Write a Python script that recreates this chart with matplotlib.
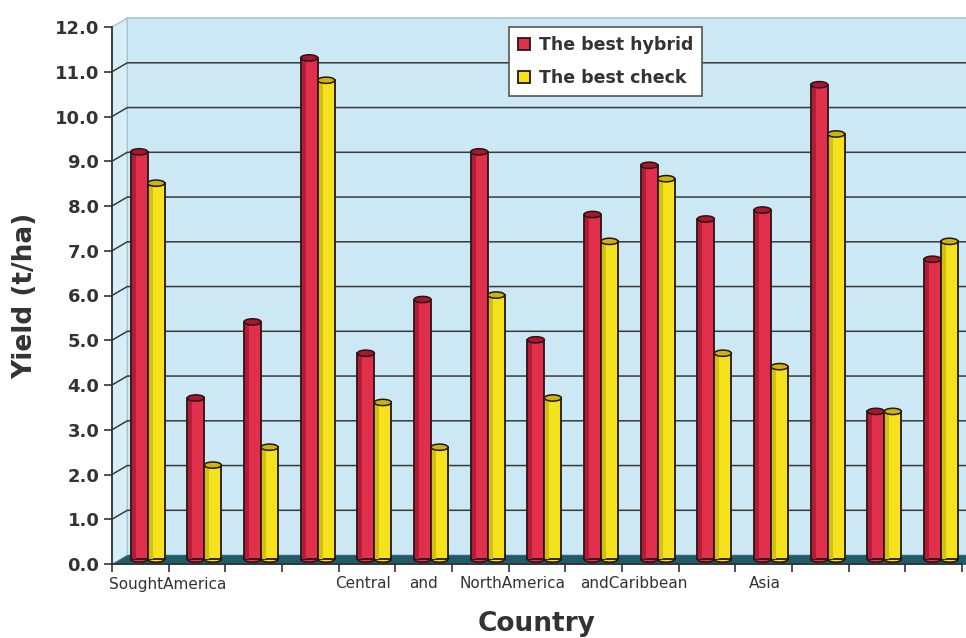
import numpy as np
import matplotlib.pyplot as plt
from matplotlib.patches import Polygon, Ellipse

plt.rcParams['font.family'] = ['DejaVu Sans']

# yields per site, t/ha
hybrid = [9.1, 3.6, 5.3, 11.2, 4.6, 5.8, 9.1, 4.9, 7.7, 8.8, 7.6, 7.8, 10.6, 3.3, 6.7]
check = [8.4, 2.1, 2.5, 10.7, 3.5, 2.5, 5.9, 3.6, 7.1, 8.5, 4.6, 4.3, 9.5, 3.3, 7.1]

# region labels under the category axis
region_labels = ['SoughtAmerica', 'Central', 'and', 'NorthAmerica', 'andCaribbean', 'Asia']
region_pos = [0.99, 4.43, 5.49, 7.07, 9.2, 11.52]

series_names = ['The best hybrid', 'The best check']

red = '#e0304c'
red_dark = '#b71c36'
red_top = '#a8172f'
yellow = '#f4e31c'
yellow_dark = '#d2bf12'
yellow_top = '#c9b50c'
ink = '#333333'
outline = '#2a1414'

fig = plt.figure(figsize=(9.66, 6.38), dpi=100)
ax = fig.add_axes([112 / 966, 74 / 638, 850 / 966, 537 / 638])
ax.set_xlim(0, 15)
ax.set_ylim(0, 12)
ax.patch.set_visible(False)

# fake 3-D box: back wall, side wall and floor
dx, dy = 0.27, 0.2
right = 15.6
ax.add_patch(Polygon([(dx, dy), (right, dy), (right, 12 + dy), (dx, 12 + dy)],
                     closed=True, fc='#cce8f4', ec='#a9c3cf', lw=1.2,
                     clip_on=False, zorder=0))
ax.add_patch(Polygon([(0, 0), (dx, dy), (dx, 12 + dy), (0, 12)],
                     closed=True, fc='#d8eef7', ec='#a9c3cf', lw=1,
                     clip_on=False, zorder=0.5))
ax.add_patch(Polygon([(0, 0), (right, 0), (right, dy), (dx, dy)],
                     closed=True, fc='#1f5b68', ec='#1f5b68', lw=0.5,
                     clip_on=False, zorder=0.6))
for k in range(1, 12):
    ax.plot([0, dx, right], [k, k + dy, k + dy], color='#3a3a3a', lw=1.1,
            clip_on=False, zorder=1, solid_capstyle='butt')

# paired cylinders
w = 0.3
base = 0.11
centers = np.arange(len(hybrid)) + 0.5 + 0.13
x_red = centers - w / 2
x_yel = centers + w / 2

ax.bar(x_red, hybrid, width=w, bottom=base, color=red, edgecolor=outline,
       linewidth=1.3, zorder=3, label=series_names[0])
ax.bar(x_yel, check, width=w, bottom=base, color=yellow, edgecolor=outline,
       linewidth=1.3, zorder=3.5, label=series_names[1])

# darker band on the left of each cylinder for a rounded look
shade_w = 0.07
ax.bar(x_red - w / 2 + 0.015 + shade_w / 2, hybrid, width=shade_w, bottom=base,
       color=red_dark, linewidth=0, zorder=3.05)
ax.bar(x_yel - w / 2 + 0.015 + shade_w / 2, check, width=shade_w, bottom=base,
       color=yellow_dark, linewidth=0, zorder=3.55)

cap_h = 0.14
for xs, vals, fc, tc, z in [(x_red, hybrid, red, red_top, 3),
                            (x_yel, check, yellow, yellow_top, 3.5)]:
    for x, v in zip(xs, vals):
        ax.add_patch(Ellipse((x, base), w, cap_h, fc=fc, ec=outline,
                             lw=1.2, zorder=z - 0.1))
        ax.add_patch(Ellipse((x, v + base), w, cap_h, fc=tc, ec=outline,
                             lw=1.1, zorder=z + 0.1))

# axes
for s in ['top', 'right']:
    ax.spines[s].set_visible(False)
for s in ['left', 'bottom']:
    ax.spines[s].set_color(ink)
    ax.spines[s].set_linewidth(1.3)
    ax.spines[s].set_zorder(5)

ax.set_yticks(range(13))
ax.set_yticklabels([f'{k}.0' for k in range(13)], fontsize=13,
                   fontweight='bold', color=ink)
ax.tick_params(axis='y', length=6, width=1.2, color=ink, pad=3)

ax.set_xticks(region_pos)
ax.set_xticklabels(region_labels, fontsize=11, color=ink)
ax.set_xticks(range(16), minor=True)
ax.tick_params(axis='x', which='major', length=0, pad=9)
ax.tick_params(axis='x', which='minor', length=6, width=1.2, color=ink)

ax.set_xlabel('Country', fontsize=19, fontweight='bold', color=ink, labelpad=14)
ax.set_ylabel('Yield (t/ha)', fontsize=19, fontweight='bold', color=ink, labelpad=12)

leg = ax.legend(loc='upper left', bbox_to_anchor=(509 / 966, 1 - 27 / 638),
                bbox_transform=fig.transFigure, fancybox=False, framealpha=1,
                facecolor='white', edgecolor='#555555',
                prop={'weight': 'bold', 'size': 12.5},
                handlelength=0.7, handleheight=0.7, labelspacing=0.9,
                borderpad=0.5, handletextpad=0.5, borderaxespad=0)
leg.get_frame().set_linewidth(1.2)
for t in leg.get_texts():
    t.set_color(ink)
leg.set_zorder(10)

fig.savefig('out.png', dpi=100)
